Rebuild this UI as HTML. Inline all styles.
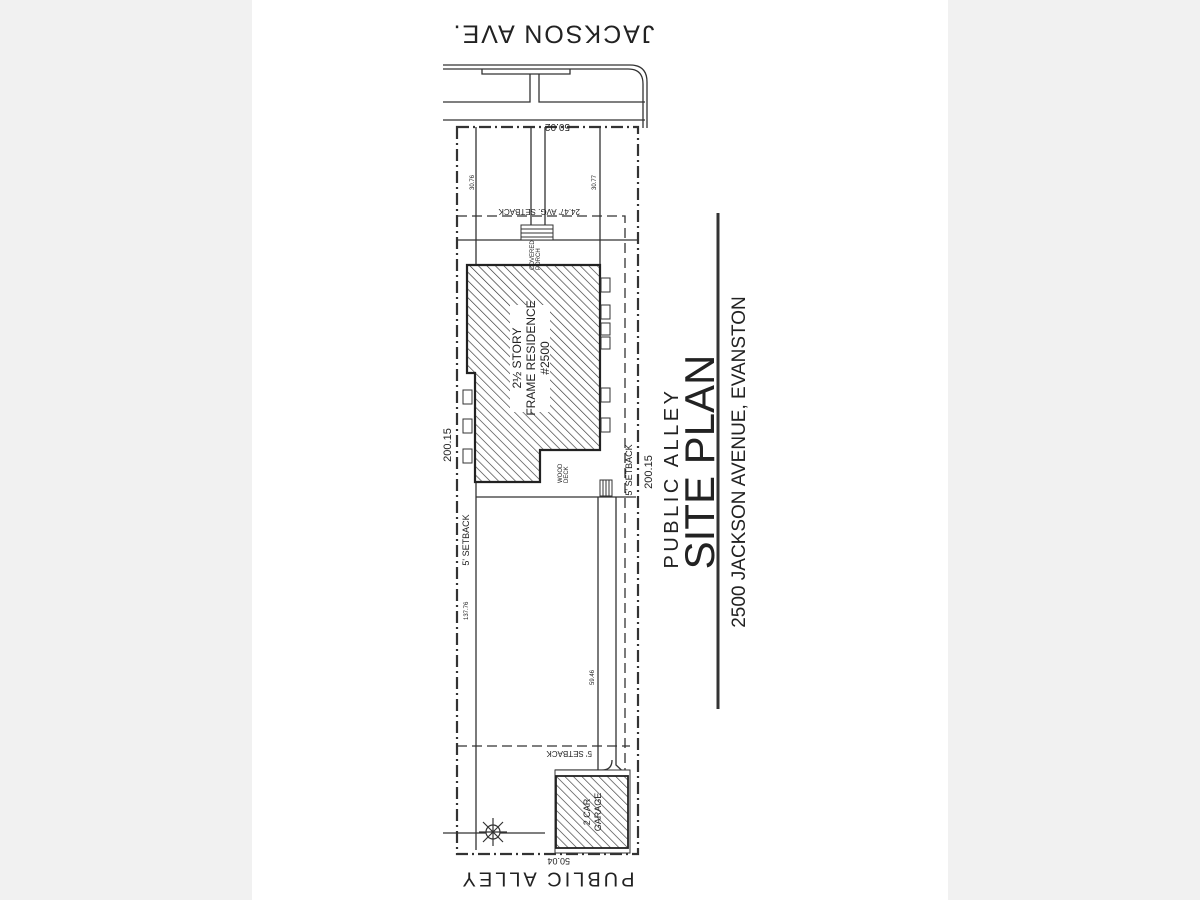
<!DOCTYPE html>
<html><head><meta charset="utf-8"><style>
html,body{margin:0;padding:0;width:1200px;height:900px;overflow:hidden;background:#f1f1f1}
svg{display:block}
text{font-family:"Liberation Sans",sans-serif;fill:#222}
</style></head><body>
<svg width="1200" height="900" viewBox="0 0 1200 900" xmlns="http://www.w3.org/2000/svg">
<defs>
<pattern id="h" width="6" height="6" patternUnits="userSpaceOnUse" patternTransform="rotate(-45)">
<rect width="6" height="6" fill="#fff"/><line x1="0" y1="0" x2="0" y2="6" stroke="#333" stroke-width="1.3"/>
</pattern>
</defs>
<rect x="252" y="0" width="696" height="900" fill="#fff"/>
<g stroke="#333" fill="none" stroke-width="1.3">
<path d="M443 65 H630 Q647 65 647 82 V128"/>
<path d="M443 69 H628 Q643 69 643 84 V128"/>
<path d="M482 69 V74 H570 V69"/>
<path d="M443 102 H530 V74 M539 74 V102 H645"/>
<path d="M443 120 H645"/>
<rect x="457" y="127" width="181" height="727" stroke-width="2.2" stroke-dasharray="12,4,2,4"/>
<path d="M457 216 H625 V770" stroke-dasharray="10,5"/>
<path d="M457 746 H630" stroke-dasharray="10,5"/>
<path d="M476 127 V850"/>
<path d="M600 127 V265"/>
<path d="M531 127 V225 M545 127 V225"/>
<path d="M457 240 H638"/>
<path d="M476 497 H636"/>
<path d="M598 497 V850"/>
<path d="M616 497 V765 L630 778"/>
<path d="M555 770 H602 Q612 770 612 760"/>
</g>
<g stroke="#333" stroke-width="1"><rect x="521" y="225" width="32" height="15" fill="#fff"/>
<line x1="521" y1="229" x2="553" y2="229"/><line x1="521" y1="233" x2="553" y2="233"/><line x1="521" y1="237" x2="553" y2="237"/></g>
<path d="M467 265 H600 V450 H540 V482 H475 V373 H467 Z" fill="url(#h)" stroke="#222" stroke-width="2.2"/>
<rect x="510" y="305" width="40" height="107" fill="#fff"/>
<text transform="translate(521,358) rotate(-90)" font-size="12" text-anchor="middle">2½ STORY</text>
<text transform="translate(535,358) rotate(-90)" font-size="12" text-anchor="middle">FRAME RESIDENCE</text>
<text transform="translate(549,358) rotate(-90)" font-size="12" text-anchor="middle">#2500</text>
<g fill="#fff" stroke="#333" stroke-width="1">
<rect x="463" y="390" width="9" height="14"/><rect x="463" y="419" width="9" height="14"/><rect x="463" y="449" width="9" height="14"/>
<rect x="601" y="278" width="9" height="14"/><rect x="601" y="305" width="9" height="14"/><rect x="601" y="323" width="9" height="12"/><rect x="601" y="337" width="9" height="12"/>
<rect x="601" y="388" width="9" height="14"/><rect x="601" y="418" width="9" height="14"/>
</g>
<g stroke="#333" stroke-width="1"><rect x="600" y="480" width="12" height="16" fill="#fff"/>
<line x1="603" y1="480" x2="603" y2="496"/><line x1="606" y1="480" x2="606" y2="496"/><line x1="609" y1="480" x2="609" y2="496"/></g>
<rect x="555" y="770" width="75" height="83" fill="#fff" stroke="#333"/>
<rect x="556" y="776" width="72" height="72" fill="url(#h)" stroke="#222" stroke-width="1.8"/>
<text transform="translate(590,812) rotate(-90)" font-size="9" text-anchor="middle">2 CAR</text>
<text transform="translate(601,812) rotate(-90)" font-size="9" text-anchor="middle">GARAGE</text>
<g stroke="#333" stroke-width="1.2"><line x1="443" y1="833" x2="545" y2="833"/><circle cx="493" cy="832" r="7" fill="#fff"/>
<path d="M493 818 V846 M479 832 H507 M483 822 L503 842 M503 822 L483 842"/></g>
<g font-size="6">
<text transform="translate(570,124) rotate(180)" font-size="10">50.02</text>
<text transform="translate(580,209) rotate(180)" font-size="8">24.47' AVG. SETBACK</text>
<text transform="translate(592,751) rotate(180)" font-size="8">5' SETBACK</text>
<text transform="translate(570,858) rotate(180)" font-size="9">50.04</text>
<text transform="translate(474,190) rotate(-90)">30.76</text>
<text transform="translate(596,190) rotate(-90)">30.77</text>
<text transform="translate(468,620) rotate(-90)">137.76</text>
<text transform="translate(594,685) rotate(-90)">59.46</text>
<text transform="translate(562,483) rotate(-90)">WOOD</text>
<text transform="translate(568,483) rotate(-90)">DECK</text>
<text transform="translate(534,270) rotate(-90)">COVERED</text>
<text transform="translate(540,270) rotate(-90)">PORCH</text>
</g>
<text transform="translate(469,540) rotate(-90)" font-size="9" text-anchor="middle">5' SETBACK</text>
<text transform="translate(632,470) rotate(-90)" font-size="9" text-anchor="middle">5' SETBACK</text>
<text transform="translate(652,472) rotate(-90)" font-size="11" text-anchor="middle">200.15</text>
<text transform="translate(451,445) rotate(-90)" font-size="11" text-anchor="middle">200.15</text>
<text transform="translate(553,32) rotate(180)" font-size="25" text-anchor="middle" letter-spacing="2" dominant-baseline="middle">JACKSON AVE.</text>
<text transform="translate(547,878) rotate(180)" font-size="20" text-anchor="middle" letter-spacing="3" dominant-baseline="middle">PUBLIC ALLEY</text>
<text transform="translate(678,478) rotate(-90)" font-size="20" text-anchor="middle" letter-spacing="3.5">PUBLIC ALLEY</text>
<text transform="translate(714,462) rotate(-90)" font-size="42" text-anchor="middle">SITE PLAN</text>
<text transform="translate(745,462) rotate(-90)" font-size="19" text-anchor="middle">2500 JACKSON AVENUE, EVANSTON</text>
<line x1="718" y1="213" x2="718" y2="709" stroke="#333" stroke-width="3"/>
</svg>
</body></html>
